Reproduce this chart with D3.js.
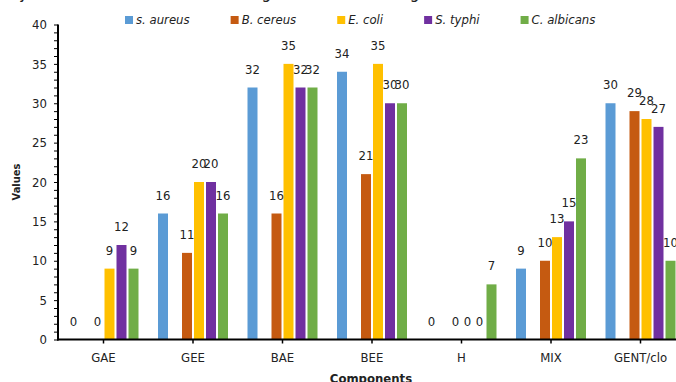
<!DOCTYPE html>
<html>
<head>
<meta charset="utf-8">
<script src="https://cdn.jsdelivr.net/npm/d3@7"></script>
<style>
  html, body { margin: 0; padding: 0; background: #fff; }
  svg { display: block; }
  text { font-family: "DejaVu Sans Condensed", "DejaVu Sans", sans-serif; fill: #222; }
</style>
</head>
<body>
<svg id="chart" width="676" height="382"></svg>
<script>
// ---- data ----
const categories = ["GAE", "GEE", "BAE", "BEE", "H", "MIX", "GENT/clo"];
const seriesNames = ["s. aureus", "B. cereus", "E. coli", "S. typhi", "C. albicans"];
const sAureus   = [0, 16, 32, 34, 0, 9, 30];
const bCereus   = [0, 11, 16, 21, 0, 10, 29];
const eColi     = [9, 20, 35, 35, 0, 13, 28];
const sTyphi    = [12, 20, 32, 30, 0, 15, 27];
const cAlbicans = [9, 16, 32, 30, 7, 23, 10];
const seriesColors = ["#5B9BD5", "#C55A11", "#FFC000", "#7030A0", "#70AD47"];
const yTickValues = [0, 5, 10, 15, 20, 25, 30, 35, 40];
const titleText = "Antimicrobial activity of the extracts on the microorganisms studied (Figure 3)";
const xTitle = "Components";
const yTitle = "Values";

const seriesValues = [sAureus, bCereus, eColi, sTyphi, cAlbicans];
// slot layout as in the original: an empty slot after the first series
const slotKeys = [seriesNames[0], "", seriesNames[1], seriesNames[2], seriesNames[3], seriesNames[4]];

// ---- layout ----
const svg = d3.select("#chart");
const left = 58.75, step = 89.5;
const x0 = d3.scaleBand().domain(categories).range([left, left + step * categories.length]).padding(0);
const x1 = d3.scaleBand().domain(slotKeys).range([-36, 36]).paddingInner(1 / 6).paddingOuter(1 / 12);
const y = d3.scaleLinear().domain([0, 40]).range([339.5, 24.5]);

// clipped title at the very top
svg.append("text")
  .attr("x", 465).attr("y", -2)
  .attr("text-anchor", "end")
  .style("font-size", "17px")
  .text(titleText);

// bars
const groups = svg.append("g");
seriesNames.forEach((name, si) => {
  const vals = seriesValues[si];
  groups.selectAll(null)
    .data(categories.map((c, i) => ({ c, v: vals[i] })))
    .enter().append("rect")
    .attr("x", d => x0(d.c) + x0.bandwidth() / 2 + x1(name))
    .attr("y", d => y(d.v))
    .attr("width", x1.bandwidth())
    .attr("height", d => y(0) - y(d.v))
    .attr("fill", seriesColors[si]);
});

// data labels
seriesNames.forEach((name, si) => {
  const vals = seriesValues[si];
  svg.append("g").selectAll("text")
    .data(categories.map((c, i) => ({ c, v: vals[i] })))
    .enter().append("text")
    .attr("x", d => x0(d.c) + x0.bandwidth() / 2 + x1(name) + x1.bandwidth() / 2)
    .attr("y", d => y(d.v) - 14)
    .attr("text-anchor", "middle")
    .style("font-size", "13px")
    .text(d => d.v);
});

// y axis (minor ticks every 1, labels every 5)
const yAxisG = svg.append("g").attr("transform", `translate(${left - 0.75},0)`);
yAxisG.call(d3.axisLeft(y).tickValues(d3.range(0, 41, 1)).tickSize(4).tickFormat(""));
yAxisG.call(g => g.select(".domain").remove());
yAxisG.selectAll(".tick line").attr("stroke", "#000").attr("stroke-width", 1);
const yLab = svg.append("g").attr("transform", `translate(${left - 0.75},0)`)
  .call(d3.axisLeft(y).tickValues(yTickValues).tickSize(0).tickPadding(11));
yLab.select(".domain").remove();
yLab.selectAll("text").style("font-size", "13px").attr("fill", "#222");
svg.append("line")
  .attr("x1", left - 0.75).attr("x2", left - 0.75)
  .attr("y1", y(40)).attr("y2", y(0) + 1)
  .attr("stroke", "#000").attr("stroke-width", 2);

// x axis
const xAxisG = svg.append("g").attr("transform", `translate(0,${y(0)})`)
  .call(d3.axisBottom(x0).tickSize(4).tickPadding(9));
xAxisG.select(".domain").remove();
xAxisG.selectAll(".tick line").attr("stroke", "#000").attr("stroke-width", 1.5);
xAxisG.selectAll("text").style("font-size", "13px").attr("fill", "#222");
svg.append("line")
  .attr("x1", left - 1.75).attr("x2", 676)
  .attr("y1", y(0)).attr("y2", y(0))
  .attr("stroke", "#000").attr("stroke-width", 2);

// axis titles
svg.append("text")
  .attr("x", 371).attr("y", 383)
  .attr("text-anchor", "middle")
  .style("font-size", "13px").style("font-weight", "bold")
  .text(xTitle);
svg.append("text")
  .attr("transform", "translate(20,182) rotate(-90)")
  .attr("text-anchor", "middle")
  .style("font-size", "11px").style("font-weight", "bold")
  .text(yTitle);

// legend
const legend = svg.append("g");
let lx = 125;
seriesNames.forEach((name, si) => {
  legend.append("rect")
    .attr("x", lx).attr("y", 16).attr("width", 8).attr("height", 8)
    .attr("fill", seriesColors[si]);
  const t = legend.append("text")
    .attr("x", lx + 11).attr("y", 24)
    .style("font-size", "13px").style("font-style", "italic")
    .text(name);
  lx += 11 + t.node().getComputedTextLength() + 41;
});
</script>
</body>
</html>
